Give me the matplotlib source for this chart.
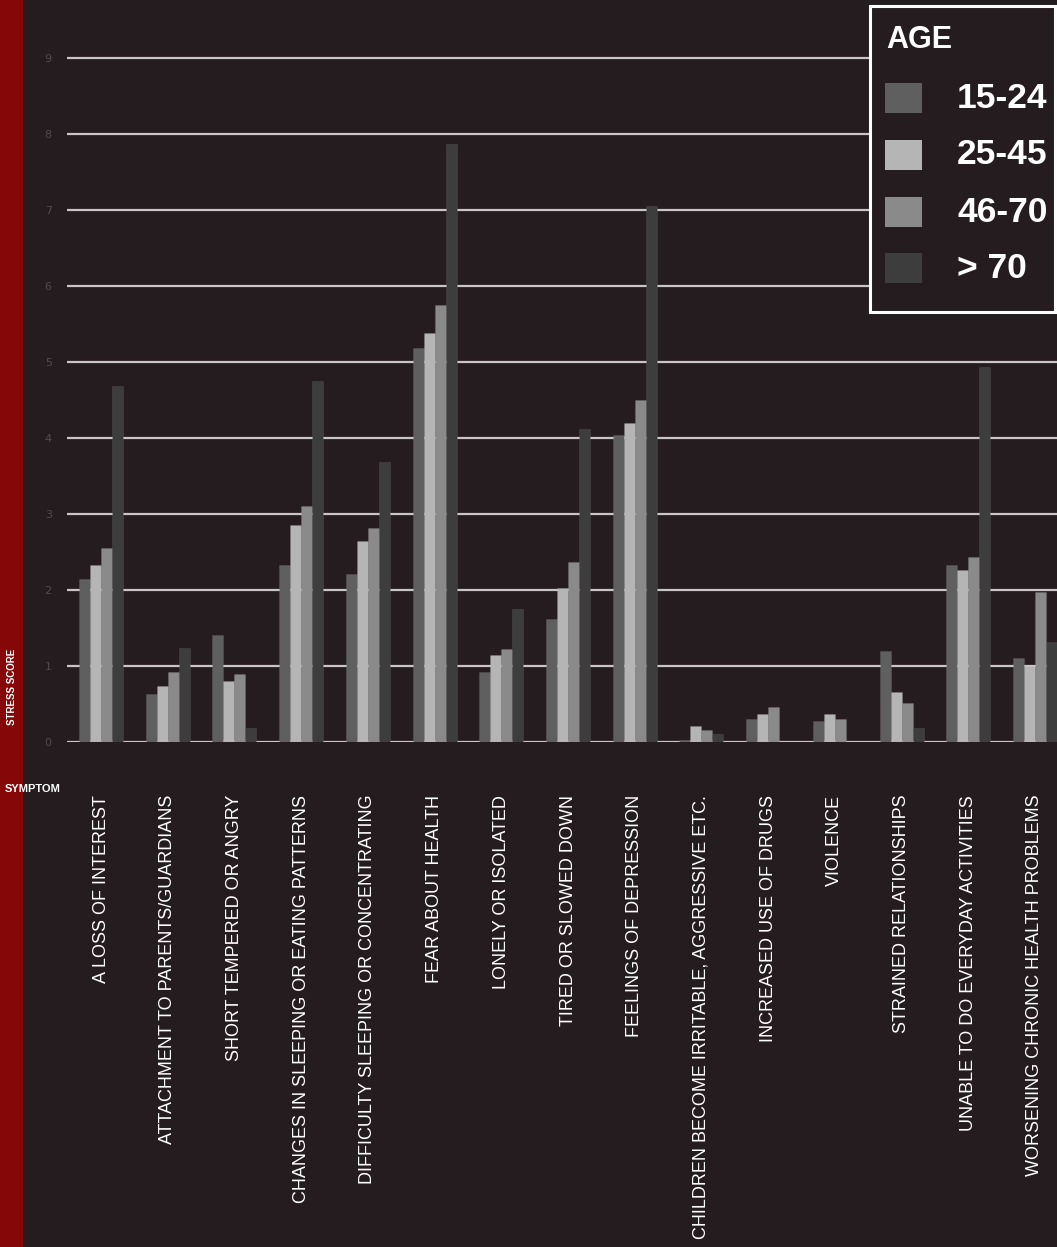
import matplotlib.pyplot as plt
import numpy as np
from matplotlib.patches import Rectangle

# symptoms along the x axis
symptoms = [
    "A LOSS OF INTEREST",
    "ATTACHMENT TO PARENTS/GUARDIANS",
    "SHORT TEMPERED OR ANGRY",
    "CHANGES IN SLEEPING OR EATING PATTERNS",
    "DIFFICULTY SLEEPING OR CONCENTRATING",
    "FEAR ABOUT HEALTH",
    "LONELY OR ISOLATED",
    "TIRED OR SLOWED DOWN",
    "FEELINGS OF DEPRESSION",
    "CHILDREN BECOME IRRITABLE, AGGRESSIVE ETC.",
    "INCREASED USE OF DRUGS",
    "VIOLENCE",
    "STRAINED RELATIONSHIPS",
    "UNABLE TO DO EVERYDAY ACTIVITIES",
    "WORSENING CHRONIC HEALTH PROBLEMS",
]

# stress scores per age group
age_15_24 = [2.14, 0.63, 1.41, 2.33, 2.21, 5.18, 0.92, 1.62, 4.04, 0.03, 0.30, 0.27, 1.20, 2.33, 1.11]
age_25_45 = [2.33, 0.74, 0.80, 2.85, 2.64, 5.38, 1.14, 2.02, 4.20, 0.21, 0.37, 0.37, 0.66, 2.26, 1.00]
age_46_70 = [2.55, 0.92, 0.89, 3.10, 2.82, 5.75, 1.22, 2.37, 4.50, 0.16, 0.46, 0.30, 0.51, 2.44, 1.97]
age_70_up = [4.68, 1.24, 0.18, 4.75, 3.68, 7.87, 1.75, 4.12, 7.05, 0.11, 0.00, 0.00, 0.18, 4.93, 1.31]

age_labels = ["15-24", "25-45", "46-70", "> 70"]
age_colors = ["#5f5f5f", "#b5b5b5", "#8a8a8a", "#3d3d3d"]
series = [age_15_24, age_25_45, age_46_70, age_70_up]

y_ticks = list(range(10))

BG = "#241c1f"
RED = "#860707"
W, H = 1057, 1247

fig = plt.figure(figsize=(W / 100, H / 100), dpi=100, facecolor=BG)


# helpers to place things in pixel coordinates of the output image
def fx(px):
    return px / W


def fy(py):
    return 1 - py / H


# left red strip
fig.patches.append(Rectangle((0, 0), fx(23), 1, transform=fig.transFigure,
                             facecolor=RED, edgecolor="none", zorder=0))

ax = fig.add_axes([fx(67), fy(742), 1 - fx(67), (742 - 20) / H])
ax.set_facecolor(BG)

x = np.arange(len(symptoms))
bw = 0.165
for i, (vals, col) in enumerate(zip(series, age_colors)):
    ax.bar(x + (i - 1.5) * bw, vals, width=bw, color=col,
           edgecolor=(1, 1, 1, 0.07), linewidth=0.8, zorder=3)

for yv in y_ticks:
    ax.axhline(yv, color="#c9c6c7", linewidth=1.6, zorder=2)

ax.set_xlim(-0.51, 14.33)
ax.set_ylim(0, 9.5)
for s in ax.spines.values():
    s.set_visible(False)

ax.set_yticks(y_ticks)
ax.set_yticklabels([str(v) for v in y_ticks], color="#504c4d", fontsize=8,
                   family="DejaVu Sans")
ax.tick_params(axis="y", length=0, pad=11)

ax.set_xticks(x)
ax.set_xticklabels(symptoms, rotation=90, ha="center", va="top",
                   color="white", fontsize=13, family="Liberation Sans")
ax.tick_params(axis="x", length=0, pad=38)

# axis titles on the red strip
fig.text(fx(12), fy(687), "STRESS SCORE", rotation=90, ha="center", va="center",
         color="white", fontsize=7, fontweight="bold", family="Liberation Sans")
fig.text(fx(5), fy(789), "SYMPTOM", ha="left", va="center",
         color="white", fontsize=8, fontweight="bold", family="Liberation Sans")

# legend box drawn by hand
fig.patches.append(Rectangle((fx(870), fy(312)), fx(1055) - fx(870), fy(6) - fy(312),
                             transform=fig.transFigure, facecolor=BG,
                             edgecolor="white", linewidth=2.2, zorder=5))
fig.text(fx(886), fy(40), "AGE", ha="left", va="center", color="white",
         fontsize=22, fontweight="bold", family="Liberation Sans", zorder=6)
row_y = [98, 155, 212, 268]
for lab, col, ry in zip(age_labels, age_colors, row_y):
    fig.patches.append(Rectangle((fx(885), fy(ry + 14.5)), fx(37), 29 / H,
                                 transform=fig.transFigure, facecolor=col,
                                 edgecolor="none", zorder=6))
    fig.text(fx(957), fy(ry), lab, ha="left", va="center", color="white",
             fontsize=25.5, fontweight="bold", family="Liberation Sans", zorder=6)

fig.savefig("out.png", dpi=100, facecolor=BG)
